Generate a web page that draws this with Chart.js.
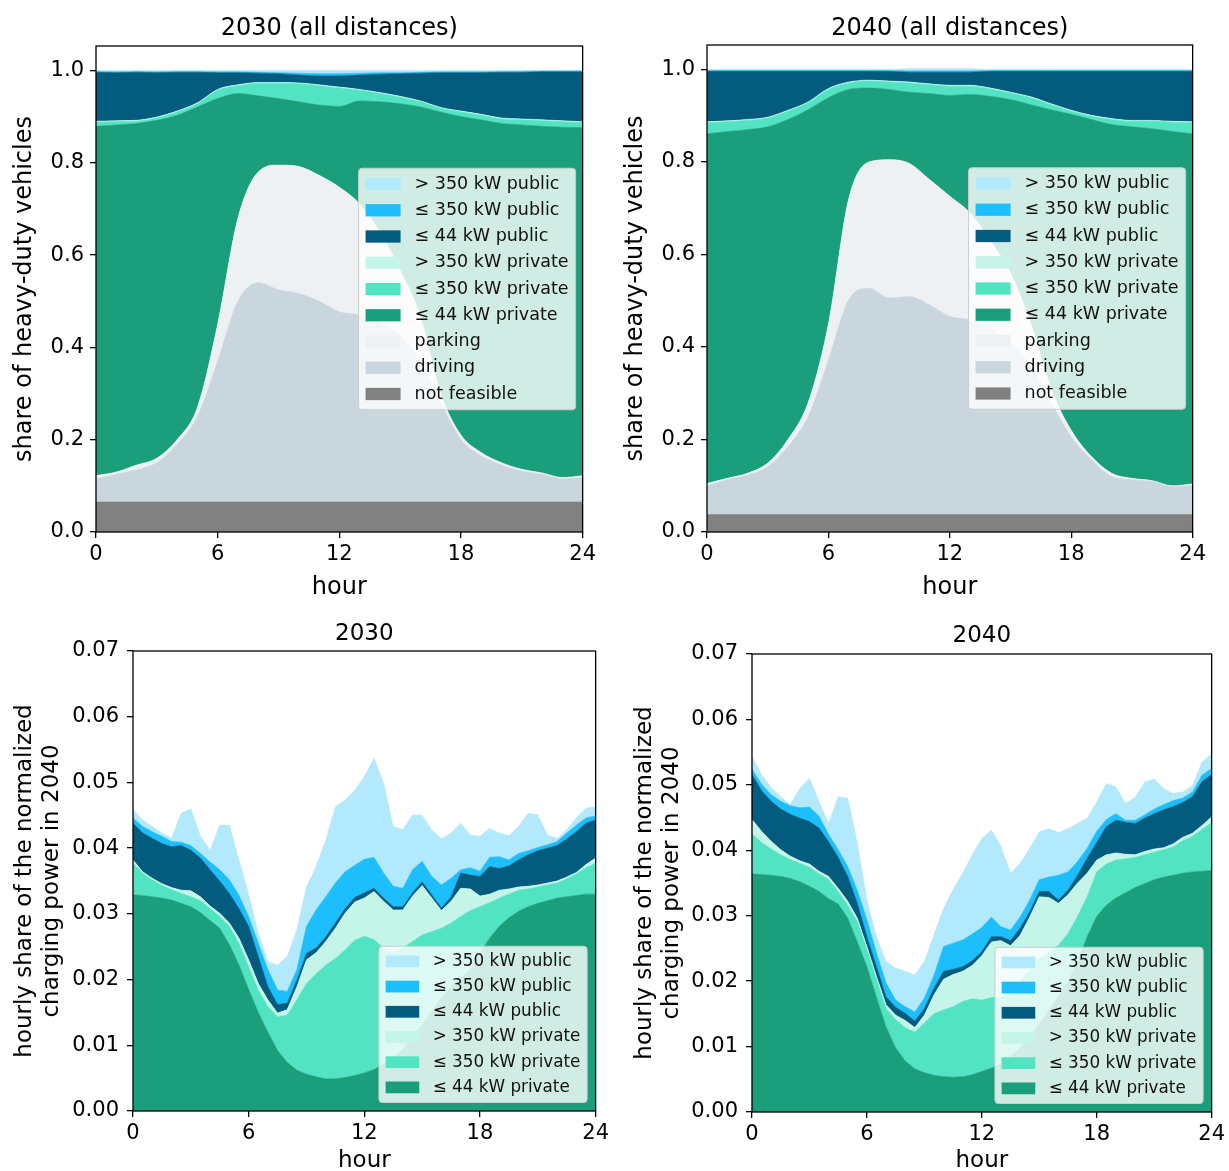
<!DOCTYPE html>
<html>
<head>
<meta charset="utf-8">
<script src="https://cdn.jsdelivr.net/npm/chart.js@4.4.1/dist/chart.umd.min.js"></script>
<style>
  body { margin: 0; background: #fff; width: 1229px; height: 1171px; position: relative; overflow: hidden; }
  canvas { position: absolute; }
</style>
</head>
<body>
<canvas id="shares2030" width="600" height="600" style="left:0;top:0"></canvas>
<canvas id="shares2040" width="599" height="600" style="left:611px;top:0"></canvas>
<canvas id="power2030" width="613" height="561" style="left:0;top:610px"></canvas>
<canvas id="power2040" width="609" height="561" style="left:620px;top:610px"></canvas>
<script>
// x positions
const hours = [0,1,2,3,4,5,6,7,8,9,10,11,12,13,14,15,16,17,18,19,20,21,22,23,24];
const halfHours = [0,0.5,1,1.5,2,2.5,3,3.5,4,4.5,5,5.5,6,6.5,7,7.5,8,8.5,9,9.5,10,10.5,11,11.5,
  12,12.5,13,13.5,14,14.5,15,15.5,16,16.5,17,17.5,18,18.5,19,19.5,20,20.5,21,21.5,22,22.5,23,23.5,24];
const hourTicks = [0, 6, 12, 18, 24];
const shareTicks = [0, 0.2, 0.4, 0.6, 0.8, 1.0];
const powerTicks = [0, 0.01, 0.02, 0.03, 0.04, 0.05, 0.06, 0.07];

// stack order, bottom to top
const vehicleLabels = ['not feasible', 'driving', 'parking', '≤ 44 kW private', '≤ 350 kW private',
  '> 350 kW private', '≤ 44 kW public', '≤ 350 kW public', '> 350 kW public'];
const vehicleColors = ['#818181', '#c9d6de', '#eef1f4', '#1a9e7c', '#52e4c2', '#c4f5e8', '#035b7e', '#1dbefc', '#b3e9fc'];
const chargeLabels = vehicleLabels.slice(3);
const chargeColors = vehicleColors.slice(3);

// 2030, share of heavy-duty vehicles (hourly)
const notFeasible30 = [0.065,0.065,0.065,0.065,0.065,0.065,0.065,0.065,0.065,0.065,0.065,0.065,0.065,0.065,0.065,0.065,0.065,0.065,0.065,0.065,0.065,0.065,0.065,0.065,0.065];
const driving30 = [0.05,0.06,0.07,0.085,0.125,0.185,0.305,0.435,0.475,0.46,0.452,0.435,0.412,0.405,0.39,0.36,0.305,0.215,0.135,0.1,0.08,0.067,0.06,0.05,0.053];
const parking30 = [0.007,0.005,0.01,0.01,0.01,0.02,0.08,0.18,0.24,0.27,0.275,0.273,0.27,0.241,0.195,0.142,0.096,0.02,0.01,0.007,0.005,0.004,0.003,0.003,0.004];
const priv44_30 = [0.757,0.752,0.74,0.732,0.703,0.651,0.489,0.27,0.165,0.144,0.14,0.152,0.175,0.223,0.282,0.361,0.455,0.61,0.69,0.721,0.735,0.746,0.751,0.759,0.754];
const priv350_30 = [0.009,0.007,0.005,0.005,0.007,0.007,0.018,0.017,0.027,0.033,0.039,0.042,0.04,0.023,0.018,0.014,0.011,0.008,0.01,0.01,0.01,0.011,0.012,0.012,0.011];
const privHi30 = [0.002,0.002,0.002,0.002,0.002,0.002,0.002,0.002,0.002,0.002,0.002,0.002,0.002,0.002,0.002,0.002,0.002,0.002,0.002,0.002,0.002,0.002,0.002,0.002,0.002];
const pub44_30 = [0.106,0.104,0.104,0.096,0.084,0.066,0.036,0.026,0.02,0.019,0.017,0.019,0.024,0.031,0.04,0.049,0.06,0.075,0.083,0.09,0.099,0.101,0.104,0.106,0.108];
const pub350_30 = [0.002,0.002,0.002,0.002,0.002,0.002,0.002,0.002,0.002,0.002,0.004,0.005,0.005,0.004,0.003,0.002,0.002,0.002,0.002,0.002,0.002,0.002,0.002,0.002,0.002];
const pubHi30 = [0.002,0.003,0.002,0.003,0.002,0.002,0.003,0.003,0.004,0.005,0.006,0.007,0.007,0.006,0.005,0.005,0.004,0.003,0.003,0.003,0.002,0.002,0.001,0.001,0.001];

// 2040, share of heavy-duty vehicles (hourly)
const notFeasible40 = [0.038,0.038,0.038,0.038,0.038,0.038,0.038,0.038,0.038,0.038,0.038,0.038,0.038,0.038,0.038,0.038,0.038,0.038,0.038,0.038,0.038,0.038,0.038,0.038,0.038];
const driving40 = [0.062,0.075,0.085,0.103,0.147,0.212,0.334,0.464,0.489,0.468,0.471,0.453,0.428,0.421,0.402,0.372,0.322,0.242,0.168,0.118,0.082,0.075,0.071,0.06,0.062];
const parking40 = [0.005,0.003,0.004,0.008,0.015,0.03,0.078,0.218,0.273,0.299,0.288,0.271,0.26,0.231,0.19,0.15,0.09,0.03,0.014,0.007,0.007,0.003,0.002,0.002,0.004];
const priv44_40 = [0.756,0.75,0.743,0.727,0.692,0.633,0.489,0.237,0.16,0.152,0.154,0.186,0.218,0.256,0.312,0.375,0.474,0.603,0.683,0.729,0.754,0.76,0.761,0.766,0.757];
const priv350_40 = [0.024,0.021,0.02,0.019,0.018,0.015,0.018,0.014,0.015,0.016,0.02,0.019,0.02,0.018,0.016,0.014,0.015,0.011,0.007,0.007,0.011,0.012,0.016,0.02,0.024];
const privHi40 = [0.002,0.002,0.002,0.002,0.002,0.002,0.002,0.002,0.002,0.002,0.002,0.002,0.002,0.002,0.002,0.002,0.002,0.002,0.002,0.002,0.002,0.002,0.002,0.002,0.002];
const pub44_40 = [0.109,0.107,0.104,0.099,0.084,0.066,0.037,0.023,0.019,0.021,0.021,0.025,0.028,0.028,0.036,0.045,0.055,0.07,0.084,0.095,0.102,0.106,0.106,0.108,0.109];
const pub350_40 = [0.002,0.002,0.002,0.002,0.002,0.002,0.002,0.002,0.002,0.002,0.003,0.003,0.003,0.003,0.002,0.002,0.002,0.002,0.002,0.002,0.002,0.002,0.002,0.002,0.002];
const pubHi40 = [0.002,0.002,0.002,0.002,0.002,0.002,0.002,0.002,0.002,0.002,0.005,0.005,0.005,0.005,0.002,0.002,0.002,0.002,0.002,0.002,0.002,0.002,0.002,0.002,0.002];

// 2030, hourly share of charging power (half-hourly)
const cp44priv30 = [0.0329,0.0328,0.0326,0.0324,0.0321,0.0316,0.0311,0.0302,0.029,0.0278,0.0253,0.0222,0.0185,0.015,0.012,0.0092,0.0074,0.0062,0.0056,0.0052,0.0049,0.0049,0.0051,0.0054,0.0058,0.0063,0.0071,0.0081,0.0094,0.0112,0.0132,0.0152,0.0172,0.019,0.0203,0.0215,0.024,0.0263,0.0281,0.0294,0.0304,0.0311,0.0316,0.032,0.0324,0.0326,0.0328,0.033,0.033];
const cp350priv30 = [0.0048,0.0034,0.0026,0.0019,0.0016,0.0015,0.0015,0.0018,0.0018,0.0018,0.0028,0.0033,0.0035,0.0034,0.0039,0.0051,0.0072,0.0107,0.0138,0.0157,0.0173,0.0183,0.0194,0.0206,0.0208,0.0198,0.0177,0.0159,0.0154,0.0146,0.0136,0.0121,0.0106,0.0096,0.0093,0.009,0.0071,0.0054,0.0043,0.0036,0.0032,0.0027,0.0025,0.0024,0.0023,0.0027,0.0033,0.004,0.0047];
const cpHipriv30 = [0.0005,0.0002,0.0002,0.0003,0.0003,0.0005,0.0009,0.0006,0.0004,0.0005,0.0005,0.0008,0.001,0.001,0.001,0.0006,0.0008,0.002,0.0036,0.0032,0.0036,0.0046,0.0056,0.0058,0.0058,0.0073,0.0071,0.0066,0.0058,0.0069,0.0075,0.0051,0.0027,0.0033,0.0043,0.0033,0.0016,0.0013,0.0012,0.0008,0.0005,0.0004,0.0003,0.0003,0.0003,0.0003,0.0002,0.0005,0.0008];
const cp44pub30 = [0.0056,0.0059,0.0061,0.0061,0.0062,0.0068,0.0062,0.0059,0.0055,0.0049,0.0045,0.0045,0.0051,0.0041,0.002,0.0013,0.001,0.001,0.001,0.0007,0.0007,0.0008,0.0007,0.0007,0.0008,0.0005,0.0005,0.0005,0.0005,0.0005,0.0006,0.0005,0.0004,0.0007,0.0023,0.0021,0.003,0.0042,0.0033,0.0035,0.0041,0.0048,0.0052,0.0053,0.0054,0.0058,0.0062,0.0063,0.0058];
const cp350pub30 = [0.0008,0.001,0.001,0.0011,0.0008,0.0005,0.0007,0.0007,0.0012,0.0017,0.0021,0.002,0.0015,0.002,0.0026,0.0022,0.0018,0.0016,0.0041,0.0058,0.0061,0.0061,0.0056,0.0049,0.0051,0.0047,0.0038,0.0031,0.0028,0.0035,0.0031,0.0028,0.0035,0.0028,0.0005,0.0011,0.0008,0.0014,0.0018,0.0009,0.001,0.0006,0.0005,0.0005,0.0006,0.0009,0.001,0.0008,0.0006];
const cpHipub30 = [0.0013,0.001,0.0008,0.0005,0.0005,0.0044,0.0056,0.0026,0.0018,0.0068,0.0083,0.0054,0.0034,0.0015,0.0012,0.0038,0.0053,0.0061,0.006,0.0066,0.0086,0.0116,0.0109,0.0114,0.0126,0.0151,0.0137,0.0091,0.0089,0.0084,0.007,0.0071,0.007,0.0069,0.0071,0.005,0.0053,0.0044,0.0036,0.0037,0.0041,0.0057,0.005,0.0015,0.0005,0.0005,0.0011,0.0015,0.0014];

// 2040, hourly share of charging power (half-hourly)
const cp44priv40 = [0.0364,0.0363,0.0362,0.036,0.0357,0.0352,0.0345,0.0337,0.0326,0.0318,0.0296,0.026,0.0222,0.0175,0.013,0.0098,0.0078,0.0066,0.006,0.0056,0.0054,0.0053,0.0054,0.0057,0.0062,0.0067,0.0074,0.0085,0.0098,0.0115,0.0135,0.0155,0.0177,0.0199,0.023,0.0268,0.0299,0.0316,0.0327,0.0335,0.0343,0.0349,0.0355,0.0359,0.0362,0.0365,0.0367,0.0368,0.0369];
const cp350priv40 = [0.0061,0.0049,0.004,0.0033,0.0029,0.0028,0.0029,0.0027,0.0029,0.0019,0.002,0.0031,0.0026,0.0027,0.0028,0.0043,0.0051,0.0056,0.0076,0.0094,0.0102,0.0108,0.0115,0.0116,0.0109,0.0108,0.0101,0.01,0.0102,0.0103,0.01,0.0089,0.0078,0.0074,0.0069,0.0061,0.0068,0.0063,0.0058,0.0052,0.0046,0.0044,0.0042,0.0042,0.0043,0.005,0.0054,0.0064,0.0073];
const cpHipriv40 = [0.0022,0.0017,0.0012,0.0008,0.0005,0.0004,0.0005,0.0004,0.0005,0.0005,0.0006,0.0005,0.0005,0.0005,0.0006,0.0007,0.0011,0.0007,0.0012,0.0029,0.0047,0.0049,0.0046,0.0051,0.0068,0.0085,0.0087,0.0069,0.007,0.008,0.0094,0.0084,0.0064,0.0059,0.0051,0.0036,0.0018,0.0014,0.0011,0.0007,0.0004,0.0005,0.0005,0.0003,0.0005,0.0005,0.0005,0.0006,0.0009];
const cp44pub40 = [0.0069,0.0062,0.0061,0.0062,0.0064,0.0065,0.0065,0.0066,0.0053,0.0047,0.0038,0.0023,0.0015,0.0015,0.0012,0.0012,0.0011,0.001,0.001,0.001,0.0012,0.0008,0.0007,0.0007,0.0006,0.0008,0.0006,0.0008,0.0011,0.0008,0.0008,0.0009,0.0005,0.0007,0.0012,0.0023,0.0027,0.0043,0.005,0.0049,0.0048,0.0051,0.0054,0.0058,0.0057,0.0053,0.0056,0.0067,0.0065];
const cp350pub40 = [0.0008,0.001,0.001,0.0012,0.0013,0.0016,0.0022,0.0018,0.0011,0.0012,0.0015,0.002,0.0026,0.0021,0.0021,0.0011,0.001,0.0014,0.0016,0.002,0.0038,0.004,0.0041,0.0041,0.0037,0.003,0.0015,0.0016,0.0017,0.0018,0.0018,0.0022,0.0038,0.0028,0.0021,0.0015,0.0017,0.0011,0.001,0.0003,0.0005,0.0005,0.0007,0.0008,0.0009,0.0007,0.0007,0.001,0.0009];
const cpHipub40 = [0.002,0.0015,0.0011,0.0007,0.0002,0.003,0.0044,0.0023,0.0017,0.0081,0.0105,0.0072,0.003,0.0025,0.0033,0.0049,0.0054,0.0056,0.0056,0.0062,0.0058,0.0082,0.0102,0.0121,0.0136,0.0133,0.0123,0.0087,0.0082,0.0079,0.0073,0.0074,0.0065,0.0066,0.0058,0.0046,0.0045,0.0055,0.0041,0.0026,0.0035,0.005,0.0046,0.0024,0.0011,0.0009,0.001,0.002,0.0022];

const FONT = "'DejaVu Sans', sans-serif";
Chart.defaults.font.family = FONT;
Chart.defaults.color = '#000';

// black box around the plot area (matplotlib spines)
const frame = {
  id: 'frame',
  afterDatasetsDraw(chart) {
    const {ctx, chartArea: a} = chart;
    ctx.save();
    ctx.strokeStyle = '#000';
    ctx.lineWidth = 1.3;
    ctx.strokeRect(a.left, a.top, a.right - a.left, a.bottom - a.top);
    ctx.restore();
  }
};

// matplotlib-like legend box drawn inside the axes
const boxLegend = {
  id: 'boxLegend',
  afterDraw(chart, args, opts) {
    const {ctx, chartArea: a} = chart;
    const fs = opts.fontSize;
    const items = chart.data.datasets.slice().reverse();
    ctx.save();
    ctx.font = fs + 'px ' + FONT;
    const textW = Math.max(...items.map(d => ctx.measureText(d.label).width));
    const pad = 0.4 * fs, hl = 2 * fs, hh = 0.7 * fs, gap = 0.8 * fs, row = 1.5 * fs;
    const w = pad * 2 + hl + gap + textW;
    const h = pad * 2 + row * items.length - 0.5 * fs;
    const x = a.right - opts.inset - w;
    const y = opts.place === 'center' ? (a.top + a.bottom - h) / 2 : a.bottom - opts.inset - h;
    ctx.beginPath();
    ctx.roundRect(x, y, w, h, 0.2 * fs);
    ctx.fillStyle = 'rgba(255,255,255,0.8)';
    ctx.fill();
    ctx.strokeStyle = '#cccccc';
    ctx.lineWidth = 1;
    ctx.stroke();
    ctx.textBaseline = 'middle';
    items.forEach((d, i) => {
      const cy = y + pad + row * i + fs / 2;
      ctx.fillStyle = d.backgroundColor;
      ctx.fillRect(x + pad, cy - hh / 2, hl, hh);
      ctx.fillStyle = '#111';
      ctx.fillText(d.label, x + pad + hl + gap, cy);
    });
    ctx.restore();
  }
};

function makeChart(id, c) {
  const datasets = c.series.map((vals, i) => ({
    label: c.labels[i],
    data: c.x.map((h, j) => ({x: h, y: vals[j]})),
    backgroundColor: c.colors[i],
    borderColor: c.colors[i],
    borderWidth: 0.6,
    pointRadius: 0,
    fill: i === 0 ? 'origin' : '-1',
    tension: 0,
    cubicInterpolationMode: c.smooth ? 'monotone' : 'default'
  }));

  return new Chart(document.getElementById(id), {
    type: 'line',
    data: {datasets},
    options: {
      responsive: false,
      animation: false,
      events: [],
      layout: {padding: {left: 0, right: 16, top: 0, bottom: 0}},
      plugins: {
        legend: {display: false},
        tooltip: {enabled: false},
        title: {
          display: true, text: c.title, fullSize: false, color: '#000',
          font: {size: c.titleSize, weight: 'normal', lineHeight: 1},
          padding: c.titlePad
        },
        boxLegend: c.legend
      },
      scales: {
        x: {
          type: 'linear', min: 0, max: 24,
          afterBuildTicks: s => { s.ticks = hourTicks.map(v => ({value: v})); },
          afterFit: s => { s.height = c.xHeight; },
          ticks: {color: '#000', font: {size: 21}, padding: 4, maxRotation: 0, callback: v => v},
          grid: {drawOnChartArea: false, color: '#000', lineWidth: 1.3, tickLength: 6},
          border: {display: false},
          title: {display: true, text: 'hour', color: '#000', font: {size: c.labelSize, lineHeight: 1}, padding: {top: 0, bottom: c.xTitlePad}}
        },
        y: {
          type: 'linear', stacked: true, min: 0, max: c.yMax,
          afterBuildTicks: s => { s.ticks = c.yTicks.map(v => ({value: v})); },
          afterFit: s => { s.width = c.yWidth; },
          ticks: {color: '#000', font: {size: 21}, padding: c.yTickPad, callback: v => v.toFixed(c.digits)},
          grid: {drawOnChartArea: false, color: '#000', lineWidth: 1.3, tickLength: 6},
          border: {display: false},
          title: {display: true, text: c.yTitle, color: '#000', font: {size: c.labelSize, lineHeight: c.yTitleLH}, padding: {top: c.yTitlePad, bottom: 0}}
        }
      }
    },
    plugins: [frame, boxLegend]
  });
}

const shareBase = {
  x: hours, smooth: true, labels: vehicleLabels, colors: vehicleColors,
  titleSize: 24, labelSize: 24, xHeight: 68, xTitlePad: 0,
  yMax: 1.053, yTicks: shareTicks, digits: 1, yWidth: 96, yTickPad: 6,
  yTitle: 'share of heavy-duty vehicles', yTitleLH: 1, yTitlePad: 13,
  legend: {fontSize: 17.5, place: 'center', inset: 7}
};

makeChart('shares2030', Object.assign({}, shareBase, {
  title: '2030 (all distances)', titlePad: {top: 17, bottom: 5},
  series: [notFeasible30, driving30, parking30, priv44_30, priv350_30, privHi30, pub44_30, pub350_30, pubHi30]
}));

makeChart('shares2040', Object.assign({}, shareBase, {
  title: '2040 (all distances)', titlePad: {top: 17, bottom: 4},
  series: [notFeasible40, driving40, parking40, priv44_40, priv350_40, privHi40, pub44_40, pub350_40, pubHi40]
}));

const powerBase = {
  x: halfHours, smooth: false, labels: chargeLabels, colors: chargeColors,
  titleSize: 23, labelSize: 23, xTitlePad: -2,
  yMax: 0.07, yTicks: powerTicks, digits: 2, yTickPad: 8,
  yTitle: ['hourly share of the normalized', 'charging power in 2040'], yTitleLH: 1.16, yTitlePad: 11.6,
  legend: {fontSize: 16.8, place: 'lower', inset: 8.5}
};

makeChart('power2030', Object.assign({}, powerBase, {
  title: '2030', titlePad: {top: 12.5, bottom: 5.5}, xHeight: 60, yWidth: 133,
  series: [cp44priv30, cp350priv30, cpHipriv30, cp44pub30, cp350pub30, cpHipub30]
}));

makeChart('power2040', Object.assign({}, powerBase, {
  title: '2040', titlePad: {top: 14.5, bottom: 6.5}, xHeight: 59, yWidth: 132,
  series: [cp44priv40, cp350priv40, cpHipriv40, cp44pub40, cp350pub40, cpHipub40]
}));
</script>
</body>
</html>
